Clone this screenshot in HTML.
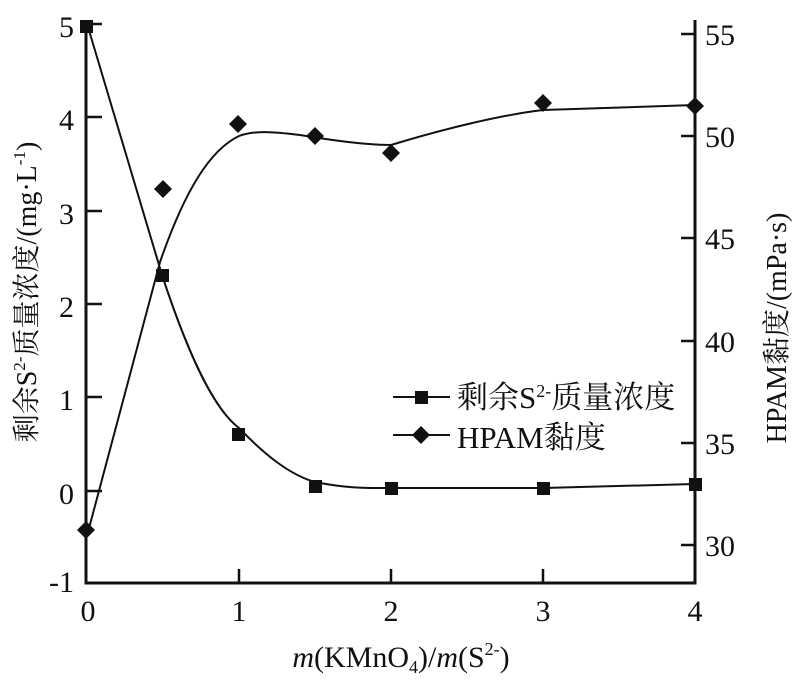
<!DOCTYPE html>
<html><head><meta charset="utf-8"><style>body{margin:0;background:#fff}svg{display:block}text{font-family:"Liberation Serif","Noto Serif CJK SC",serif;fill:#111}</style></head><body>
<svg width="811" height="685" viewBox="0 0 811 685" xmlns="http://www.w3.org/2000/svg">
<g stroke="#111" fill="none" stroke-width="3">
<path d="M86,20 V583 H695 V20"/>
</g>
<g stroke="#111" stroke-width="2.5">
<path d="M86,24h16M86,117h16M86,211h16M86,304h16M86,397h16M86,491h16"/>
<path d="M695,34h-14M695,136h-14M695,238h-14M695,341h-14M695,443h-14M695,545h-14"/>
<path d="M239,583v-14M391,583v-14M543,583v-14"/>
</g>
<g font-size="30" text-anchor="end">
<text x="74" y="37">5</text><text x="74" y="130">4</text><text x="74" y="224">3</text><text x="74" y="317">2</text><text x="74" y="410">1</text><text x="74" y="504">0</text><text x="74" y="592">-1</text>
</g>
<g font-size="30">
<text x="705" y="45">55</text><text x="705" y="147">50</text><text x="705" y="249">45</text><text x="705" y="352">40</text><text x="705" y="454">35</text><text x="705" y="556">30</text>
</g>
<g font-size="30" text-anchor="middle">
<text x="88" y="621">0</text><text x="239" y="621">1</text><text x="391" y="621">2</text><text x="543" y="621">3</text><text x="695" y="621">4</text>
<text x="401" y="667" font-size="30"><tspan font-style="italic">m</tspan>(KMnO<tspan font-size="18" dy="6">4</tspan><tspan dy="-6">)/</tspan><tspan font-style="italic">m</tspan>(S<tspan font-size="18" dy="-12">2-</tspan><tspan dy="12">)</tspan></text>
</g>
<text transform="translate(36,292) rotate(-90)" text-anchor="middle" font-size="28">剩余S<tspan font-size="17" dy="-11">2-</tspan><tspan dy="11">质量浓度/(mg·L</tspan><tspan font-size="17" dy="-11">-1</tspan><tspan dy="11">)</tspan></text>
<text transform="translate(786,328) rotate(-90)" text-anchor="middle" font-size="28">HPAM黏度/(mPa·s)</text>
<g stroke="#111" stroke-width="2" fill="none">
<path d="M88,27 L162,275 C190,360 215,410 239,428 C265,455 290,475 315,482 C350,489 370,488 391,488 L543,488 L695,484"/>
<path d="M88,532 L160,262 C185,190 210,150 239,136 C255,130 275,132 300,135 C330,140 365,145 391,145 C440,130 500,115 543,110 L695,105"/>
</g>
<g fill="#111">
<rect x="80" y="20" width="13" height="13"/><rect x="156" y="269" width="13" height="13"/><rect x="232" y="428" width="13" height="13"/><rect x="309" y="480" width="13" height="13"/><rect x="385" y="482" width="13" height="13"/><rect x="537" y="482" width="13" height="13"/><rect x="689" y="478" width="13" height="13"/>
<path d="M86,521l9,9l-9,9l-9,-9z"/><path d="M163,180l9,9l-9,9l-9,-9z"/><path d="M238,115l9,9l-9,9l-9,-9z"/><path d="M315,127l9,9l-9,9l-9,-9z"/><path d="M391,144l9,9l-9,9l-9,-9z"/><path d="M543,94l9,9l-9,9l-9,-9z"/><path d="M695,97l9,9l-9,9l-9,-9z"/>
</g>
<g stroke="#111" stroke-width="2"><path d="M393,397h57M393,435h57"/></g>
<rect x="415" y="391" width="13" height="13" fill="#111"/>
<path d="M421,426l9,9l-9,9l-9,-9z" fill="#111"/>
<text x="457" y="408" font-size="31">剩余S<tspan font-size="18" dy="-11">2-</tspan><tspan dy="11">质量浓度</tspan></text>
<text x="457" y="448" font-size="31">HPAM黏度</text>
</svg>
</body></html>
